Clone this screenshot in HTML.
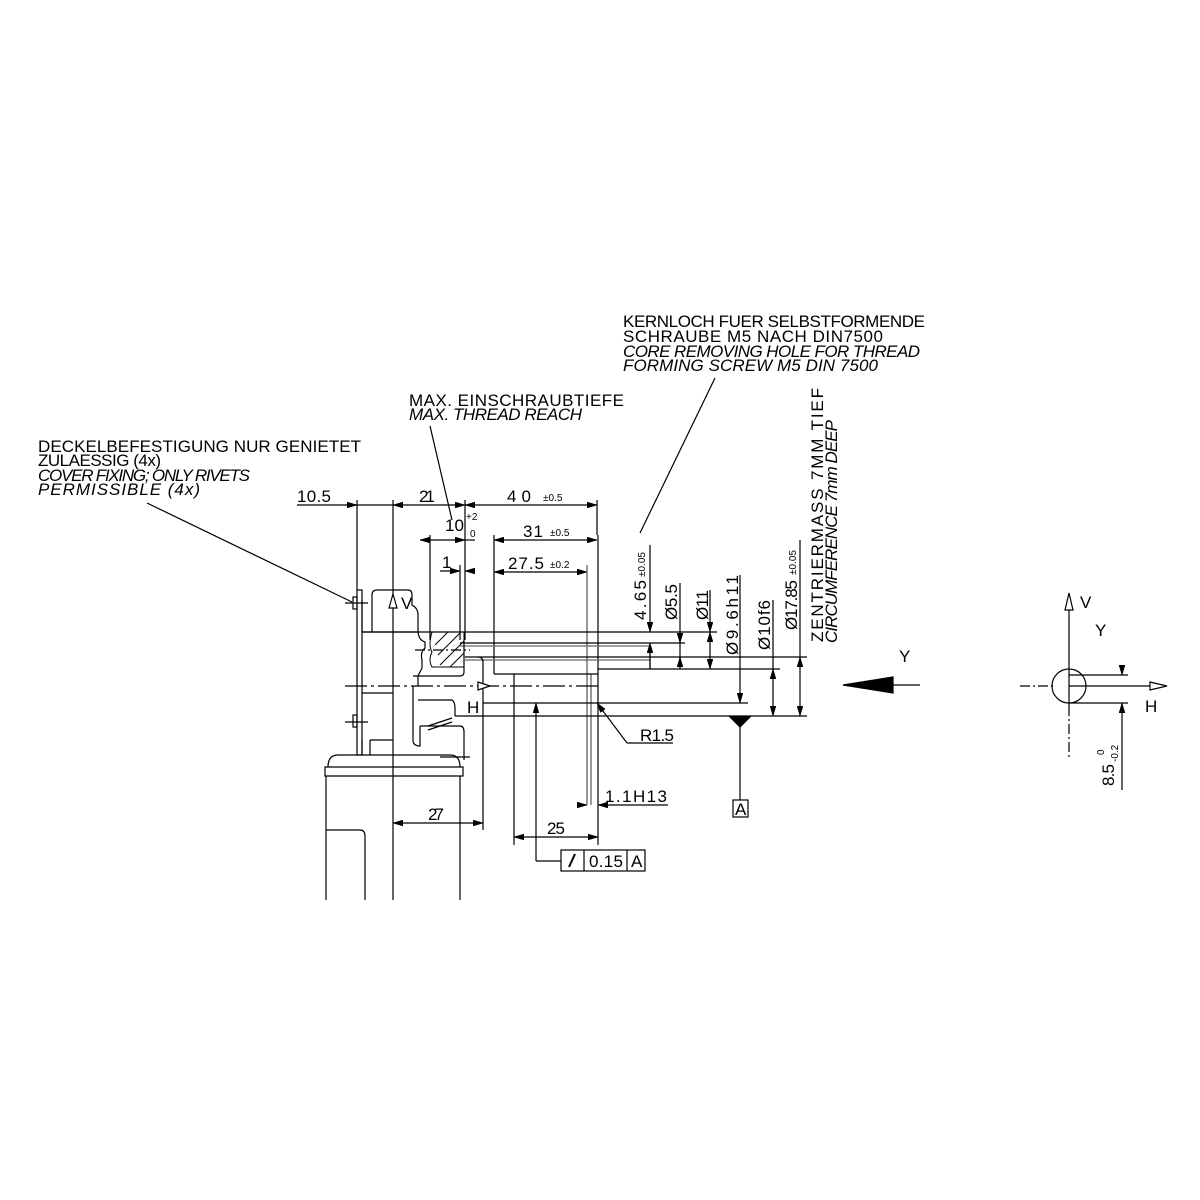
<!DOCTYPE html>
<html><head><meta charset="utf-8"><style>
html,body{margin:0;padding:0;background:#fff}
svg{display:block}
text{font-family:"Liberation Sans",sans-serif;fill:#000}
.t{font-size:17px}
.i{font-size:17px;font-style:italic}
.s{font-size:10px}
</style></head><body>
<svg width="1200" height="1200" viewBox="0 0 1200 1200" xmlns="http://www.w3.org/2000/svg">
<defs>
<marker id="a" viewBox="0 0 10 6" refX="10" refY="3" markerWidth="10" markerHeight="6" orient="auto-start-reverse" markerUnits="userSpaceOnUse"><path d="M0,0 L10,3 L0,6" fill="#000" stroke="#000" stroke-width="0.5"/></marker>
</defs>
<g stroke="#000" stroke-width="1.2" fill="none">
<line x1="297" y1="505" x2="357" y2="505"/>
<line x1="357" y1="505" x2="393" y2="505"/>
<line x1="393" y1="505" x2="465" y2="505" marker-start="url(#a)" marker-end="url(#a)"/>
<line x1="465" y1="505" x2="597" y2="505" marker-start="url(#a)" marker-end="url(#a)"/>
<line x1="345" y1="505" x2="357" y2="505" marker-end="url(#a)"/>
<line x1="357" y1="500" x2="357" y2="590"/>
<line x1="393" y1="500" x2="393" y2="900"/>
<line x1="465" y1="500" x2="465" y2="640"/>
<line x1="597" y1="500" x2="597" y2="535"/>
<line x1="430" y1="535" x2="430" y2="640"/>
<line x1="420" y1="540" x2="465" y2="540" marker-start="url(#a)" marker-end="url(#a)"/>
<line x1="465" y1="540" x2="475" y2="540"/>
<line x1="460" y1="565" x2="460" y2="640"/>
<line x1="440" y1="571" x2="460" y2="571" marker-end="url(#a)"/>
<line x1="465" y1="571" x2="475" y2="571" marker-start="url(#a)"/>
<line x1="494" y1="540" x2="597" y2="540" marker-start="url(#a)" marker-end="url(#a)"/>
<line x1="494" y1="535" x2="494" y2="674"/>
<line x1="494" y1="572" x2="587" y2="572" marker-start="url(#a)" marker-end="url(#a)"/>
<line x1="587" y1="565" x2="587" y2="805" stroke="#555"/>
<line x1="591" y1="674" x2="591" y2="805" stroke="#555"/>
<line x1="598" y1="535" x2="598" y2="845"/>
<line x1="494" y1="674" x2="598" y2="674"/>
<line x1="514" y1="674" x2="514" y2="845"/>
<line x1="362" y1="632" x2="717" y2="632"/>
<line x1="460" y1="643" x2="685" y2="643"/>
<line x1="460" y1="646" x2="650" y2="646" stroke="#666"/>
<line x1="465" y1="657" x2="807" y2="657"/>
<line x1="465" y1="660" x2="650" y2="660" stroke="#666"/>
<line x1="598" y1="669" x2="780" y2="669"/>
<path d="M478,657 Q483,657 483,662 L483,830"/>
<line x1="483" y1="703" x2="748" y2="703"/>
<line x1="455" y1="716" x2="807" y2="716"/>
<line x1="345" y1="686" x2="600" y2="686" stroke-dasharray="22,4,3,4"/>
<path d="M478,682 L490,686 L478,690 Z" fill="#fff"/>
<rect x="357" y="590" width="5" height="165"/>
<path d="M372,632 L372,595 Q372,590 377,590 L408,590 Q412,590 412,595 L412,605 Q418,608 418,615 L418,630 Q418,640 425,642 L425,648 Q420,652 422,660 L422,668 Q420,672 418,676 L418,686"/>
<path d="M362,600 L362,632 L418,632"/>
<path d="M413,676 L460,676 Q464,676 464,672 L464,640"/>
<path d="M362,693 L393,693"/>
<path d="M413,686 L413,740 Q413,746 420,746 L420,726"/>
<path d="M418,700 L452,700 Q455,702 455,708 L455,716"/>
<path d="M420,726 L460,726 Q464,726 464,732 L464,760"/>
<path d="M362,740 L362,755 M370,740 L370,755 M370,740 L393,740"/>
<g stroke-width="1">
<path d="M432,632 L464,632 L464,667 L432,667 Q428,660 432,652 Q428,645 432,632 Z"/>
<line x1="435" y1="645" x2="448" y2="632"/><line x1="438" y1="655" x2="460" y2="633"/><line x1="440" y1="665" x2="464" y2="641"/><line x1="450" y1="667" x2="464" y2="653"/>
</g>
<line x1="415" y1="650" x2="470" y2="650" stroke-dasharray="10,3,2,3"/>
<rect x="353" y="597" width="4" height="12"/>
<line x1="345" y1="603" x2="368" y2="603"/>
<rect x="353" y="715" width="4" height="12"/>
<line x1="345" y1="722" x2="368" y2="722"/>
<line x1="428" y1="726" x2="452" y2="718"/>
<line x1="428" y1="730" x2="452" y2="722"/>
<path d="M328,767 Q328,755 338,755 L450,755 Q460,755 460,767"/>
<path d="M325,767 L463,767 L463,776 L325,776 Z"/>
<path d="M326,776 L326,900 M460,776 L460,900"/>
<path d="M326,830 L360,830 Q365,830 365,836 L365,900"/>
<line x1="440" y1="757" x2="470" y2="757"/>
<path d="M389,608 L393,594 L397,608 Z" fill="#fff"/>
<line x1="147" y1="503" x2="352" y2="602"/>
<line x1="430" y1="426" x2="452" y2="520"/>
<line x1="715" y1="378" x2="640" y2="533"/>
<line x1="393" y1="823" x2="483" y2="823" marker-start="url(#a)" marker-end="url(#a)"/>
<line x1="514" y1="837" x2="598" y2="837" marker-start="url(#a)" marker-end="url(#a)"/>
<line x1="578" y1="805" x2="587" y2="805" marker-end="url(#a)"/>
<line x1="598" y1="805" x2="668" y2="805" marker-start="url(#a)"/>
<line x1="597" y1="703" x2="627" y2="743" marker-start="url(#a)"/>
<line x1="627" y1="743" x2="673" y2="743"/>
<line x1="536" y1="703" x2="536" y2="861" marker-start="url(#a)"/>
<line x1="536" y1="861" x2="561" y2="861"/>
<rect x="561" y="850" width="84" height="21"/>
<line x1="584" y1="850" x2="584" y2="871"/>
<line x1="627" y1="850" x2="627" y2="871"/>
<line x1="569" y1="867" x2="575" y2="854" stroke-width="2"/>
<line x1="650" y1="545" x2="650" y2="632" marker-end="url(#a)"/>
<line x1="650" y1="643" x2="650" y2="669"/>
<line x1="650" y1="669" x2="650" y2="643" marker-end="url(#a)"/>
<line x1="680" y1="583" x2="680" y2="643" marker-end="url(#a)"/>
<line x1="680" y1="669" x2="680" y2="657" marker-end="url(#a)"/>
<line x1="680" y1="643" x2="680" y2="669"/>
<line x1="710" y1="590" x2="710" y2="632" marker-end="url(#a)"/>
<line x1="710" y1="632" x2="710" y2="669" marker-start="url(#a)" marker-end="url(#a)"/>
<line x1="740" y1="575" x2="740" y2="703" marker-end="url(#a)"/>
<line x1="773" y1="600" x2="773" y2="669" />
<line x1="773" y1="669" x2="773" y2="716" marker-start="url(#a)" marker-end="url(#a)"/>
<line x1="800" y1="540" x2="800" y2="657"/>
<line x1="800" y1="657" x2="800" y2="716" marker-start="url(#a)" marker-end="url(#a)"/>
<path d="M730,717 L750,717 L740,727 Z" fill="#000"/>
<line x1="740" y1="727" x2="740" y2="800"/>
<rect x="733" y="800" width="15" height="17"/>
<path d="M843,685 L893,677 L893,693 Z" fill="#000"/>
<line x1="893" y1="685" x2="920" y2="685"/>
<circle cx="1069" cy="686" r="17"/>
<line x1="1069" y1="595" x2="1069" y2="706"/>
<line x1="1069" y1="706" x2="1069" y2="760" stroke-dasharray="10,3,2,3"/>
<path d="M1065,610 L1069,593 L1073,610 Z" fill="#fff"/>
<line x1="1020" y1="686" x2="1055" y2="686" stroke-dasharray="10,3,2,3"/>
<line x1="1069" y1="686" x2="1150" y2="686"/>
<path d="M1150,682 L1167,686 L1150,690 Z" fill="#fff"/>
<line x1="1069" y1="675" x2="1128" y2="675"/>
<line x1="1069" y1="703" x2="1128" y2="703"/>
<line x1="1122" y1="665" x2="1122" y2="675" marker-end="url(#a)"/>
<line x1="1122" y1="790" x2="1122" y2="703" marker-end="url(#a)"/>
</g>
<text class="t" x="623" y="327" textLength="302">KERNLOCH FUER SELBSTFORMENDE</text>
<text class="t" x="623" y="342" textLength="260">SCHRAUBE M5 NACH DIN7500</text>
<text class="i" x="623" y="357" textLength="297">CORE REMOVING HOLE FOR THREAD</text>
<text class="i" x="623" y="371" textLength="255">FORMING SCREW M5 DIN 7500</text>
<text class="t" x="409" y="406" textLength="215">MAX. EINSCHRAUBTIEFE</text>
<text class="i" x="409" y="420" textLength="173">MAX. THREAD REACH</text>
<text class="t" x="38" y="452" textLength="323">DECKELBEFESTIGUNG NUR GENIETET</text>
<text class="t" x="38" y="466" textLength="123">ZULAESSIG (4x)</text>
<text class="i" x="38" y="481" textLength="212">COVER FIXING; ONLY RIVETS</text>
<text class="i" x="38" y="495" textLength="162">PERMISSIBLE (4x)</text>
<text class="t" x="297" y="502" textLength="34">10.5</text>
<text class="t" x="419" y="502" textLength="16">21</text>
<text class="t" x="507" y="502" textLength="24">40</text><text class="s" x="543" y="501">±0.5</text>
<text class="t" x="445" y="531">10</text><text class="s" x="466" y="520">+2</text><text class="s" x="470" y="537">0</text>
<text class="t" x="442" y="568">1</text>
<text class="t" x="523" y="537" textLength="20">31</text><text class="s" x="550" y="536">±0.5</text>
<text class="t" x="508" y="569" textLength="36">27.5</text><text class="s" x="550" y="568">±0.2</text>
<text class="t" x="467" y="713" font-size="18">H</text>
<text class="t" x="401" y="609" font-size="17">V</text>
<text class="t" x="428" y="820" textLength="16">27</text>
<text class="t" x="547" y="834" textLength="18">25</text>
<text class="t" x="605" y="802" textLength="62">1.1H13</text>
<text class="t" x="640" y="741" textLength="34">R1.5</text>
<text class="t" x="589" y="867" textLength="34">0.15</text>
<text class="t" x="631" y="867">A</text>
<text class="t" x="735" y="815" font-size="14">A</text>
<text class="t" x="899" y="662" font-size="18">Y</text>
<text class="t" x="1080" y="608">V</text>
<text class="t" x="1095" y="636">Y</text>
<text class="t" x="1145" y="712">H</text>
<text class="t" transform="translate(646,620) rotate(-90)" textLength="40">4.65</text>
<text class="s" transform="translate(645,577) rotate(-90)">±0.05</text>
<text class="t" transform="translate(677,620) rotate(-90)" textLength="36">Ø5.5</text>
<text class="t" transform="translate(708,620) rotate(-90)" textLength="30">Ø11</text>
<text class="t" transform="translate(738,655) rotate(-90)" textLength="80">Ø9.6h11</text>
<text class="t" transform="translate(770,650) rotate(-90)" textLength="50">Ø10f6</text>
<text class="t" transform="translate(797,630) rotate(-90)" textLength="50">Ø17.85</text>
<text class="s" transform="translate(796,575) rotate(-90)">±0.05</text>
<text class="t" transform="translate(823,642) rotate(-90)" textLength="254">ZENTRIERMASS 7MM TIEF</text>
<text class="i" transform="translate(837,643) rotate(-90)" textLength="223">CIRCUMFERENCE 7mm DEEP</text>
<text class="t" transform="translate(1114,786) rotate(-90)" textLength="22">8.5</text>
<text class="s" transform="translate(1104,755) rotate(-90)">0</text>
<text class="s" transform="translate(1118,762) rotate(-90)">-0.2</text>
</svg>
</body></html>
